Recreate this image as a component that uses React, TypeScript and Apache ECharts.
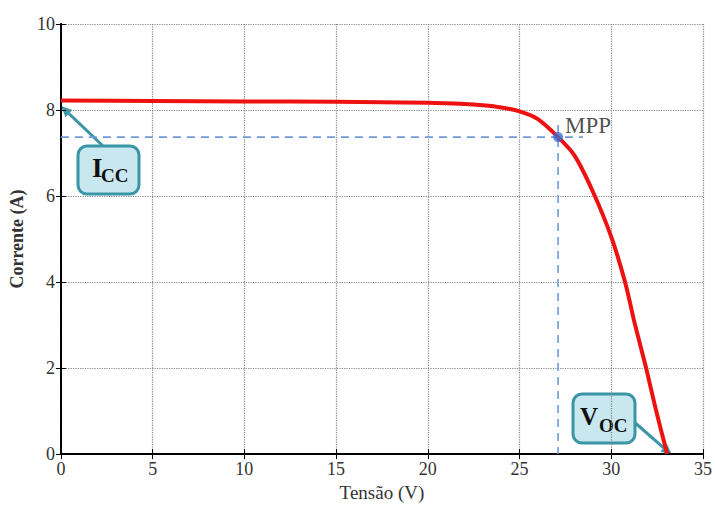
import React, { useEffect, useRef } from "react";
import * as echarts from "echarts";

// I-V curve of the PV module
const voltage = [0, 5, 10, 15, 20, 22, 23, 24, 25, 26, 27.1, 28, 29, 30, 30.75, 31.3, 31.9, 32.45, 33.05];
const current = [8.22, 8.21, 8.2, 8.19, 8.17, 8.14, 8.11, 8.06, 7.97, 7.79, 7.37, 6.94, 6.1, 5.05, 4.0, 3.0, 2.0, 1.0, 0];

const mppV = 27.1;
const mppI = 7.37;
const mppHLineEndV = 28.45;
const mppVLineTopI = 7.65;

const xMin = 0, xMax = 35, xStep = 5;
const yMin = 0, yMax = 10, yStep = 2;

const xName = "Tensão (V)";
const yName = "Corrente (A)";

const FONT = "Liberation Serif";
const TEAL = "#3a95a6";
const BOXFILL = "#c9e7ef";

function arrow(x1: number, y1: number, x2: number, y2: number) {
  const a = Math.atan2(y2 - y1, x2 - x1);
  const L = 11, W = 5;
  const bx = x2 - L * Math.cos(a), by = y2 - L * Math.sin(a);
  const px = -Math.sin(a) * W, py = Math.cos(a) * W;
  return [
    { type: "line", shape: { x1, y1, x2: bx, y2: by }, style: { stroke: TEAL, lineWidth: 3 } },
    {
      type: "polygon",
      shape: { points: [[x2, y2], [bx + px, by + py], [bx - px, by - py]] },
      style: { fill: TEAL },
    },
  ];
}

export default function App() {
  const ref = useRef<HTMLDivElement>(null);
  useEffect(() => {
    if (!ref.current) return;
    const chart = echarts.init(ref.current, null, { renderer: "svg" });
    const curve = voltage.map((v, i) => [v, current[i]]);
    const axisCommon = {
      type: "value",
      axisLine: { show: true, lineStyle: { color: "#000", width: 2 } },
      axisTick: { show: true, inside: true, length: 5, lineStyle: { color: "#000" } },
    };
    chart.setOption({
      animation: false,
      backgroundColor: "#fff",
      textStyle: { fontFamily: FONT },
      grid: { left: 58, right: 3, top: 24, bottom: 49, containLabel: false },
      xAxis: [
        {
          ...axisCommon,
          min: xMin, max: xMax, interval: xStep,
          position: "bottom",
          name: xName,
          nameLocation: "middle",
          nameGap: 27,
          nameTextStyle: { fontFamily: FONT, fontSize: 19, color: "#333" },
          axisLabel: { fontFamily: FONT, fontSize: 18, color: "#333", margin: 6 },
          splitLine: { show: true, lineStyle: { type: "dotted", color: "#888", width: 1.2 } },
        },
        {
          ...axisCommon,
          min: xMin, max: xMax, interval: xStep,
          position: "top",
          axisLabel: { show: false },
          splitLine: { show: false },
        },
      ],
      yAxis: [
        {
          ...axisCommon,
          min: yMin, max: yMax, interval: yStep,
          position: "left",
          name: yName,
          nameLocation: "middle",
          nameGap: 33,
          nameTextStyle: { fontFamily: FONT, fontSize: 18, fontWeight: "bold", color: "#333" },
          axisLabel: { fontFamily: FONT, fontSize: 18, color: "#333", margin: 6 },
          splitLine: { show: true, lineStyle: { type: "dotted", color: "#888", width: 1.2 } },
        },
        {
          ...axisCommon,
          min: yMin, max: yMax, interval: yStep,
          position: "right",
          axisLabel: { show: false },
          splitLine: { show: false },
        },
      ],
      series: [
        {
          type: "line",
          data: [[xMin, mppI], [mppHLineEndV, mppI]],
          symbol: "none",
          lineStyle: { color: "#6f9ad6", width: 1.6, type: [8, 6] },
          z: 2,
        },
        {
          type: "line",
          data: [[mppV, mppVLineTopI], [mppV, yMin]],
          symbol: "none",
          lineStyle: { color: "#6f9ad6", width: 1.6, type: [8, 6] },
          z: 2,
        },
        {
          type: "line",
          data: curve,
          symbol: "none",
          smooth: 0.3,
          lineStyle: { color: "#ee1111", width: 4 },
          z: 3,
        },
        {
          type: "scatter",
          data: [[mppV, mppI]],
          symbolSize: 10,
          itemStyle: { color: "#3b6fd6" },
          label: {
            show: true,
            formatter: "MPP",
            position: "right",
            distance: 2,
            offset: [0, -12],
            fontFamily: FONT,
            fontSize: 23,
            color: "#222",
          },
          z: 4,
        },
      ],
      graphic: [
        ...arrow(103, 146, 61, 106),
        {
          type: "rect",
          shape: { x: 78, y: 146, width: 61, height: 48, r: 9 },
          style: { fill: BOXFILL, stroke: TEAL, lineWidth: 3 },
        },
        {
          type: "text",
          x: 92, y: 181,
          style: { text: "I", fontFamily: FONT, fontSize: 27, fontWeight: "bold", fill: "#111", textVerticalAlign: "bottom" },
        },
        {
          type: "text",
          x: 101, y: 185,
          style: { text: "CC", fontFamily: FONT, fontSize: 19, fontWeight: "bold", fill: "#111", textVerticalAlign: "bottom" },
        },
        ...arrow(633, 421, 672, 455),
        {
          type: "rect",
          shape: { x: 573, y: 394, width: 62, height: 49, r: 9 },
          style: { fill: BOXFILL, stroke: TEAL, lineWidth: 3 },
        },
        {
          type: "text",
          x: 580, y: 429,
          style: { text: "V", fontFamily: FONT, fontSize: 25, fontWeight: "bold", fill: "#111", textVerticalAlign: "bottom" },
        },
        {
          type: "text",
          x: 599, y: 435,
          style: { text: "OC", fontFamily: FONT, fontSize: 19, fontWeight: "bold", fill: "#111", textVerticalAlign: "bottom" },
        },
      ],
    });
    return () => chart.dispose();
  }, []);
  return (
    <div
      ref={ref}
      style={{ position: "fixed", left: 0, top: 0, width: 715, height: 507, background: "#fff" }}
    />
  );
}
